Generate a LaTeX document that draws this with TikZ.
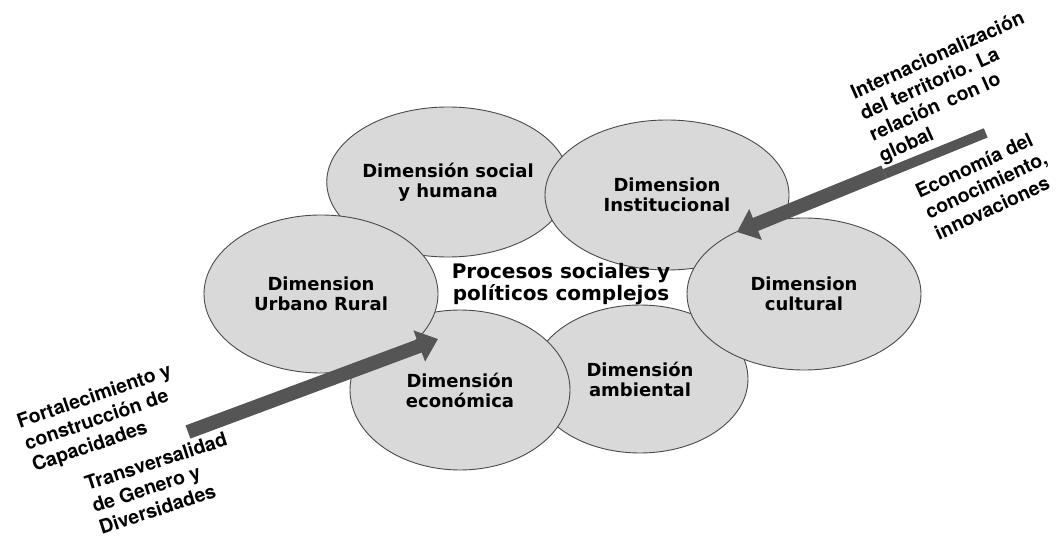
\documentclass[tikz,border=0pt]{standalone}
\usepackage{fontspec}
\newfontfamily\dimfont{DejaVu Sans}
\newfontfamily\notefont{TeX Gyre Heros}
\usetikzlibrary{shapes.geometric,arrows.meta}
\definecolor{dimfill}{HTML}{D9D9D9}
\definecolor{dimline}{HTML}{4A4A4A}
\definecolor{arrowgray}{HTML}{555555}

\begin{document}
\begin{tikzpicture}[x=1pt,y=-1pt,
  dim/.style={ellipse, draw=dimline, line width=0.9pt, fill=dimfill,
    inner sep=0pt, align=center,
    font=\dimfont\bfseries\fontsize{18}{20}\selectfont},
  centre/.style={align=center, inner sep=0pt,
    font=\dimfont\bfseries\fontsize{20}{22}\selectfont},
  note/.style={align=left, inner sep=0pt,
    font=\notefont\bfseries\fontsize{19.5}{23}\selectfont},
  bigarrow/.style={draw=arrowgray, line width=14pt,
    -{Triangle[length=20pt,width=32pt]}},
  thinshaft/.style={draw=arrowgray, line width=10pt}]

\useasboundingbox (0,0) rectangle (1059,537);

% the six dimensions, back to front
\node[dim, minimum width=240pt, minimum height=150pt] (social) at (448,182)
  {Dimensión social\\y humana};
\node[dim, minimum width=244pt, minimum height=150pt] (inst) at (667,195)
  {Dimension\\Institucional};
\node[dim, minimum width=216pt, minimum height=148pt] (amb) at (640,379)
  {Dimensión\\ambiental};
\node[dim, minimum width=220pt, minimum height=160pt] (eco) at (460,390)
  {Dimensión\\económica};
\node[dim, minimum width=234pt, minimum height=158pt] (urb) at (321,294)
  {Dimension\\Urbano Rural};
\node[dim, minimum width=234pt, minimum height=152pt] (cult) at (804,294)
  {Dimension\\cultural};

% centre text
\node[centre] (proc) at (561,284) {Procesos sociales y\\políticos complejos};

% arrow from the lower left
\coordinate (ltail) at (188,432);
\coordinate (ltip) at (438,339);
\draw[bigarrow] (ltail) -- (ltip);

% arrow from the upper right (its tail is narrower)
\coordinate (gtail) at (985,131);
\coordinate (gstep) at (884,172);
\coordinate (gtip) at (737,232);
\draw[bigarrow] (gstep) -- (gtip);
\draw[thinshaft] ([shift={(0.7,1.9)}]gtail) -- ([shift={(0.7,1.9)}]gstep);

% side notes
\node[note, rotate=24] (intl) at (952,88)
  {Internacionalización\\del territorio. La\\relación\, con lo\\global};
\node[note, rotate=25] (econ) at (986,185)
  {Economía del\\conocimiento,\\innovaciones};
\node[note, rotate=19] (fort) at (102,419)
  {Fortalecimiento y\\construcción de\\Capacidades};
\node[note, rotate=18] (trans) at (163,483)
  {Transversalidad\\de Genero y\\Diversidades};
\end{tikzpicture}
\end{document}
